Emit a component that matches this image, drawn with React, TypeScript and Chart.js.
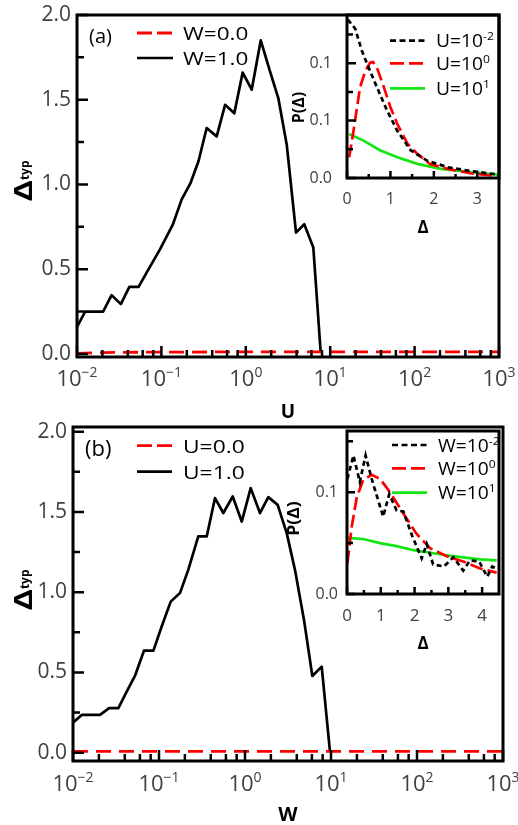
import React, { useEffect, useRef } from 'react';
import { Chart, registerables } from 'chart.js';

Chart.register(...registerables);

const FONT = "'Open Sans', 'Noto Sans', 'DejaVu Sans', sans-serif";
const MINUS = '\u2212';

// ===== Panel (a): typical gap vs U =====
const uGridW1 = [0.01, 0.0125, 0.0204, 0.0257, 0.0331, 0.0417, 0.0537, 0.0668, 0.0962, 0.136, 0.174, 0.222, 0.275, 0.344, 0.452, 0.568, 0.731, 0.918, 1.175, 1.503, 1.936, 2.427, 3.055, 3.936, 4.93, 6.31, 7.71];
const deltaTypW1 = [0.16, 0.25, 0.25, 0.347, 0.294, 0.396, 0.396, 0.48, 0.617, 0.761, 0.912, 1.01, 1.137, 1.333, 1.284, 1.47, 1.42, 1.66, 1.559, 1.85, 1.667, 1.51, 1.235, 0.716, 0.765, 0.628, 0.01];
const uGridW0 = [0.01, 0.02, 0.05, 0.1, 0.2, 0.5, 1, 2, 5, 10, 20, 50, 100, 200, 500, 1000];
const deltaTypW0 = [0.003, 0.008, 0.01, 0.011, 0.011, 0.012, 0.012, 0.012, 0.012, 0.012, 0.012, 0.012, 0.012, 0.012, 0.012, 0.012];

// ===== Panel (b): typical gap vs W =====
const wGridU1 = [0.01, 0.0126, 0.0206, 0.0263, 0.0337, 0.0421, 0.0525, 0.067, 0.0861, 0.1074, 0.1368, 0.1754, 0.2188, 0.2864, 0.3589, 0.4477, 0.5598, 0.7194, 0.9162, 1.164, 1.493, 1.866, 2.399, 3.055, 3.811, 4.853, 6.067, 7.798, 9.727];
const deltaTypU1 = [0.187, 0.235, 0.235, 0.277, 0.277, 0.38, 0.478, 0.636, 0.636, 0.786, 0.941, 0.994, 1.139, 1.347, 1.347, 1.586, 1.493, 1.596, 1.44, 1.648, 1.493, 1.592, 1.544, 1.368, 1.139, 0.827, 0.478, 0.536, 0.006];
const wGridU0 = [0.01, 0.02, 0.05, 0.1, 0.2, 0.5, 1, 2, 5, 10, 20, 50, 100, 200, 500, 1000];
const deltaTypU0 = [0.008, 0.008, 0.008, 0.008, 0.008, 0.008, 0.008, 0.008, 0.008, 0.008, 0.008, 0.008, 0.008, 0.008, 0.008, 0.008];

// ===== Inset (a): P(Δ) =====
const insA_D_Um2 = [0.02, 0.19, 0.34, 0.5, 0.69, 0.92, 1.16, 1.47, 1.85, 2.32, 2.86, 3.48];
const insA_P_Um2 = [0.138, 0.13, 0.111, 0.096, 0.079, 0.059, 0.041, 0.024, 0.015, 0.0094, 0.006, 0.003];
const insA_D_U0 = [0.05, 0.15, 0.3, 0.42, 0.53, 0.6, 0.69, 0.85, 1.0, 1.16, 1.39, 1.62, 1.92, 2.32, 2.86, 3.48];
const insA_P_U0 = [0.018, 0.041, 0.079, 0.093, 0.1005, 0.101, 0.096, 0.079, 0.0616, 0.047, 0.03, 0.021, 0.012, 0.008, 0.004, 0.0016];
const insA_D_U1 = [0.05, 0.38, 0.77, 1.16, 1.62, 2.16, 2.86, 3.48];
const insA_P_U1 = [0.0384, 0.0326, 0.024, 0.018, 0.0123, 0.008, 0.005, 0.003];

// ===== Inset (b): P(Δ) =====
const insB_D_Wm2 = [0.01, 0.19, 0.38, 0.55, 0.73, 1.07, 1.25, 1.47, 1.67, 1.93, 2.21, 2.36, 2.55, 2.87, 3.15, 3.44, 3.64, 3.91, 4.15, 4.3, 4.43];
const insB_P_Wm2 = [0.113, 0.136, 0.11, 0.136, 0.113, 0.076, 0.098, 0.082, 0.081, 0.057, 0.035, 0.049, 0.029, 0.027, 0.036, 0.023, 0.033, 0.032, 0.017, 0.027, 0.025];
const insB_D_W0 = [0.01, 0.14, 0.29, 0.48, 0.73, 0.98, 1.27, 1.67, 2.06, 2.46, 2.95, 3.44, 3.94, 4.43];
const insB_P_W0 = [0.03, 0.066, 0.095, 0.112, 0.117, 0.113, 0.1, 0.079, 0.059, 0.045, 0.037, 0.032, 0.025, 0.021];
const insB_D_W1 = [0.01, 0.48, 0.98, 1.47, 1.97, 2.46, 2.95, 3.44, 3.94, 4.43];
const insB_P_W1 = [0.055, 0.054, 0.05, 0.047, 0.043, 0.0405, 0.038, 0.036, 0.034, 0.033];

// ===== Ticks =====
const logTickValues = [0.01, 0.1, 1, 10, 100, 1000];
const logTickLabels = [`10^${MINUS}2`, `10^${MINUS}1`, '10^0', '10^1', '10^2', '10^3'];
const logMinorTicks = [0.02, 0.04, 0.06, 0.08, 0.2, 0.4, 0.6, 0.8, 2, 4, 6, 8, 20, 40, 60, 80, 200, 400, 600, 800];
const mainYTickValues = [0, 0.5, 1, 1.5, 2];
const mainYTickLabels = ['0.0', '0.5', '1.0', '1.5', '2.0'];
const mainYMinorTicks = [0.25, 0.75, 1.25, 1.75];
const insAXTickValues = [0, 1, 2, 3];
const insAXTickLabels = ['0', '1', '2', '3'];
const insAXMinorTicks = [0.5, 1.5, 2.5];
const insAYTickValues = [0, 0.05, 0.1];
const insAYTickLabels = ['0.0', '0.1', '0.1'];
const insAYMinorTicks = [0.025, 0.075, 0.125];
const insBXTickValues = [0, 1, 2, 3, 4];
const insBXTickLabels = ['0', '1', '2', '3', '4'];
const insBXMinorTicks = [0.5, 1.5, 2.5, 3.5];
const insBYTickValues = [0, 0.1];
const insBYTickLabels = ['0.0', '0.1'];
const insBYMinorTicks = [0.05, 0.15];

const pts = (xs: number[], ys: number[]) => xs.map((x, i) => ({ x, y: ys[i] }));

const RED = '#ff0000';
const GREEN = '#14e614';

function drawRich(ctx: CanvasRenderingContext2D, text: string, x: number, y: number, align: string,
  size: number, supSize: number, supRaise: number, weight = 'normal', sx = 1) {
  const [base, sup] = text.split('^');
  ctx.font = `${weight} ${size}px ${FONT}`;
  const wb = ctx.measureText(base).width;
  let ws = 0;
  if (sup) { ctx.font = `${weight} ${supSize}px ${FONT}`; ws = ctx.measureText(sup).width; }
  const total = (wb + ws) * sx;
  const x0 = align === 'left' ? x : align === 'center' ? x - total / 2 : x - total;
  ctx.save();
  ctx.translate(x0, y);
  ctx.scale(sx, 1);
  ctx.textAlign = 'left';
  ctx.textBaseline = 'alphabetic';
  ctx.font = `${weight} ${size}px ${FONT}`;
  ctx.fillText(base, 0, 0);
  if (sup) { ctx.font = `${weight} ${supSize}px ${FONT}`; ctx.fillText(sup, wb, -supRaise); }
  ctx.restore();
}

function drawRotTitle(ctx: CanvasRenderingContext2D, parts: any[], baseX: number, centerY: number) {
  const widths = parts.map((p) => { ctx.font = `bold ${p.size}px ${FONT}`; return ctx.measureText(p.text).width * p.sx; });
  const total = widths.reduce((a, b) => a + b, 0);
  ctx.save();
  ctx.translate(baseX, centerY);
  ctx.rotate(-Math.PI / 2);
  ctx.textAlign = 'left';
  ctx.textBaseline = 'alphabetic';
  ctx.fillStyle = '#000';
  let x = -total / 2;
  parts.forEach((p, i) => {
    ctx.save();
    ctx.translate(x, p.dy);
    ctx.scale(p.sx, 1);
    ctx.font = `bold ${p.size}px ${FONT}`;
    ctx.fillText(p.text, 0, 0);
    ctx.restore();
    x += widths[i];
  });
  ctx.restore();
}

function axesPlugin(s: any) {
  return {
    id: 'sciAxes_' + s.key,
    afterDatasetsDraw(chart: any) {
      const ctx = chart.ctx as CanvasRenderingContext2D;
      const ca = chart.chartArea;
      const xs = chart.scales.x;
      const ys = chart.scales.y;
      ctx.save();
      ctx.setLineDash([]);
      ctx.strokeStyle = '#000';
      ctx.lineCap = 'butt';
      // inward ticks
      ctx.lineWidth = s.tickWidth;
      ctx.beginPath();
      const xt = (v: number, len: number) => { const p = xs.getPixelForValue(v); ctx.moveTo(p, ca.bottom); ctx.lineTo(p, ca.bottom - len); };
      const yt = (v: number, len: number) => { const p = ys.getPixelForValue(v); ctx.moveTo(ca.left, p); ctx.lineTo(ca.left + len, p); };
      s.xTicks.values.forEach((v: number) => xt(v, s.xTicks.majorLen));
      s.xTicks.minor.forEach((v: number) => xt(v, s.xTicks.minorLen));
      s.yTicks.values.forEach((v: number) => yt(v, s.yTicks.majorLen));
      s.yTicks.minor.forEach((v: number) => yt(v, s.yTicks.minorLen));
      ctx.stroke();
      // frame
      ctx.lineWidth = s.frameWidth;
      ctx.lineJoin = 'miter';
      ctx.strokeRect(ca.left, ca.top, ca.right - ca.left, ca.bottom - ca.top);
      // tick labels
      ctx.fillStyle = '#404040';
      s.xTicks.values.forEach((v: number, i: number) => {
        drawRich(ctx, s.xTicks.labels[i], xs.getPixelForValue(v), ca.bottom + s.xTicks.dy, 'center',
          s.xTicks.size, s.xTicks.supSize || 12, s.xTicks.supRaise || 8);
      });
      ctx.font = `${s.yTicks.size}px ${FONT}`;
      ctx.textAlign = 'right';
      ctx.textBaseline = 'middle';
      s.yTicks.values.forEach((v: number, i: number) => {
        ctx.fillText(s.yTicks.labels[i], ca.left - s.yTicks.gap, ys.getPixelForValue(v));
      });
      // titles
      ctx.fillStyle = '#000';
      drawRich(ctx, s.xTitle.text, (ca.left + ca.right) / 2, ca.bottom + s.xTitle.dy, 'center', s.xTitle.size, 10, 6, 'bold');
      drawRotTitle(ctx, s.yTitle.parts, ca.left + s.yTitle.baseDx, (ca.top + ca.bottom) / 2 + s.yTitle.dy);
      // panel tag
      if (s.tag) {
        ctx.fillStyle = '#000';
        drawRich(ctx, s.tag.text, ca.left + s.tag.dx, ca.top + s.tag.dy, 'left', s.tag.size, 10, 6);
      }
      // legend
      const L = s.legend;
      chart.data.datasets.forEach((ds: any, i: number) => {
        const y = ca.top + L.rows[i];
        ctx.strokeStyle = ds.borderColor;
        ctx.lineWidth = ds.borderWidth;
        ctx.setLineDash(ds.legendDash || []);
        ctx.beginPath();
        ctx.moveTo(ca.left + L.x0, y);
        ctx.lineTo(ca.left + L.x1, y);
        ctx.stroke();
        ctx.setLineDash([]);
        ctx.fillStyle = '#000';
        drawRich(ctx, ds.label, ca.left + L.textX, y + L.textDy, 'left', L.size, L.supSize, L.supRaise, 'normal', L.sx);
      });
      ctx.restore();
    },
  };
}

function makeConfig(s: any): any {
  return {
    type: 'line',
    data: { datasets: s.datasets },
    options: {
      responsive: false,
      animation: false,
      devicePixelRatio: 1,
      events: [],
      layout: { padding: s.padding },
      plugins: { legend: { display: false }, tooltip: { enabled: false }, title: { display: false } },
      elements: { point: { radius: 0 }, line: { tension: 0 } },
      scales: {
        x: { type: s.xType, min: s.xMin, max: s.xMax, display: false },
        y: { type: 'linear', min: s.yMin, max: s.yMax, display: false },
      },
    },
    plugins: [axesPlugin(s)],
  };
}

const mainTicksX = (dy: number) => ({ values: logTickValues, labels: logTickLabels, minor: logMinorTicks, majorLen: 11, minorLen: 7, size: 22, supSize: 14, supRaise: 9, dy });
const mainTicksY = { values: mainYTickValues, labels: mainYTickLabels, minor: mainYMinorTicks, majorLen: 11, minorLen: 7, size: 21, gap: 6 };

const specs: any[] = [
  {
    key: 'mainA', left: 0, top: 0, width: 518, height: 420,
    padding: { left: 77, top: 15, right: 19, bottom: 63 },
    xType: 'logarithmic', xMin: 0.01, xMax: 1000, yMin: -0.018, yMax: 2.0,
    tickWidth: 2.5, frameWidth: 3,
    xTicks: mainTicksX(29), yTicks: mainTicksY,
    xTitle: { text: 'U', size: 19, dy: 61 },
    yTitle: { parts: [{ text: 'Δ', size: 25, dy: 0, sx: 1.3 }, { text: 'typ', size: 12, dy: -3, sx: 1 }], baseDx: -45, dy: -5 },
    tag: { text: '(a)', size: 20, dx: 12, dy: 28.3 },
    legend: { x0: 60, x1: 96, textX: 106, rows: [18, 43], size: 18, supSize: 12, supRaise: 8, sx: 1.25, textDy: 6.5 },
    datasets: [
      { label: 'W=0.0', data: pts(uGridW0, deltaTypW0), borderColor: RED, borderWidth: 2.8, borderDash: [15, 8], legendDash: [15, 5], pointRadius: 0 },
      { label: 'W=1.0', data: pts(uGridW1, deltaTypW1), borderColor: '#000', borderWidth: 2.7, borderJoinStyle: 'round', pointRadius: 0 },
    ],
  },
  {
    key: 'mainB', left: 0, top: 420, width: 518, height: 405,
    padding: { left: 73, top: 7, right: 15, bottom: 64 },
    xType: 'logarithmic', xMin: 0.01, xMax: 1000, yMin: -0.052, yMax: 2.029,
    tickWidth: 2.5, frameWidth: 3,
    xTicks: mainTicksX(30), yTicks: mainTicksY,
    xTitle: { text: 'W', size: 20, dy: 60 },
    yTitle: { parts: [{ text: 'Δ', size: 25, dy: 0, sx: 1.3 }, { text: 'typ', size: 12, dy: -3, sx: 1 }], baseDx: -41, dy: -4 },
    tag: { text: '(b)', size: 22, dx: 12, dy: 28.5 },
    legend: { x0: 64, x1: 99, textX: 110, rows: [18.7, 44.7], size: 19, supSize: 12, supRaise: 8, sx: 1.2, textDy: 6.8 },
    datasets: [
      { label: 'U=0.0', data: pts(wGridU0, deltaTypU0), borderColor: RED, borderWidth: 2.8, borderDash: [15, 8], legendDash: [15, 5], pointRadius: 0 },
      { label: 'U=1.0', data: pts(wGridU1, deltaTypU1), borderColor: '#000', borderWidth: 2.7, borderJoinStyle: 'round', pointRadius: 0 },
    ],
  },
  {
    key: 'insetA', left: 285, top: 0, width: 233, height: 240,
    padding: { left: 62, top: 15, right: 19, bottom: 62 },
    xType: 'linear', xMin: 0, xMax: 3.5, yMin: 0, yMax: 0.142,
    tickWidth: 2.5, frameWidth: 3,
    xTicks: { values: insAXTickValues, labels: insAXTickLabels, minor: insAXMinorTicks, majorLen: 7, minorLen: 4, size: 16, dy: 26 },
    yTicks: { values: insAYTickValues, labels: insAYTickLabels, minor: insAYMinorTicks, majorLen: 9, minorLen: 6, size: 16, gap: 15 },
    xTitle: { text: 'Δ', size: 17, dy: 55 },
    yTitle: { parts: [{ text: 'P(Δ)', size: 16, dy: 0, sx: 1 }], baseDx: -43, dy: 11 },
    legend: { x0: 43, x1: 78, textX: 89, rows: [25.7, 48.3, 73.3], size: 17.5, supSize: 11, supRaise: 7, sx: 1.1, textDy: 6.5 },
    datasets: [
      { label: 'U=10^-2', data: pts(insA_D_Um2, insA_P_Um2), borderColor: '#000', borderWidth: 2.7, borderDash: [5, 3.5], legendDash: [6, 3.5], pointRadius: 0 },
      { label: 'U=10^0', data: pts(insA_D_U0, insA_P_U0), borderColor: RED, borderWidth: 2.7, borderDash: [13, 5], legendDash: [14, 5], pointRadius: 0 },
      { label: 'U=10^1', data: pts(insA_D_U1, insA_P_U1), borderColor: GREEN, borderWidth: 2.7, pointRadius: 0 },
    ],
  },
  {
    key: 'insetB', left: 285, top: 420, width: 233, height: 240,
    padding: { left: 62, top: 11, right: 19, bottom: 66 },
    xType: 'linear', xMin: 0, xMax: 4.5, yMin: 0, yMax: 0.16,
    tickWidth: 2.5, frameWidth: 3,
    xTicks: { values: insBXTickValues, labels: insBXTickLabels, minor: insBXMinorTicks, majorLen: 7, minorLen: 4, size: 17, dy: 26.5 },
    yTicks: { values: insBYTickValues, labels: insBYTickLabels, minor: insBYMinorTicks, majorLen: 8, minorLen: 6, size: 16, gap: 9 },
    xTitle: { text: 'Δ', size: 17, dy: 55 },
    yTitle: { parts: [{ text: 'P(Δ)', size: 16, dy: 0, sx: 1.1 }], baseDx: -48, dy: 6 },
    legend: { x0: 45, x1: 80, textX: 91, rows: [14, 37.3, 61.7], size: 17.5, supSize: 11, supRaise: 7, sx: 1.1, textDy: 6.5 },
    datasets: [
      { label: 'W=10^-2', data: pts(insB_D_Wm2, insB_P_Wm2), borderColor: '#000', borderWidth: 2.7, borderDash: [5, 3.5], legendDash: [6, 3.5], pointRadius: 0 },
      { label: 'W=10^0', data: pts(insB_D_W0, insB_P_W0), borderColor: RED, borderWidth: 2.7, borderDash: [13, 5], legendDash: [14, 5], pointRadius: 0 },
      { label: 'W=10^1', data: pts(insB_D_W1, insB_P_W1), borderColor: GREEN, borderWidth: 2.7, pointRadius: 0 },
    ],
  },
];

function PanelChart({ spec }: { spec: any }) {
  const ref = useRef<HTMLCanvasElement>(null);
  useEffect(() => {
    const chart = new Chart(ref.current as HTMLCanvasElement, makeConfig(spec));
    return () => chart.destroy();
  }, [spec]);
  return (
    <canvas
      ref={ref}
      width={spec.width}
      height={spec.height}
      style={{ position: 'absolute', left: spec.left, top: spec.top, width: spec.width, height: spec.height }}
    />
  );
}

export default function App() {
  return (
    <div style={{ position: 'absolute', left: 0, top: 0, width: 518, height: 825, background: '#fff', overflow: 'hidden' }}>
      {specs.map((s) => <PanelChart key={s.key} spec={s} />)}
    </div>
  );
}
